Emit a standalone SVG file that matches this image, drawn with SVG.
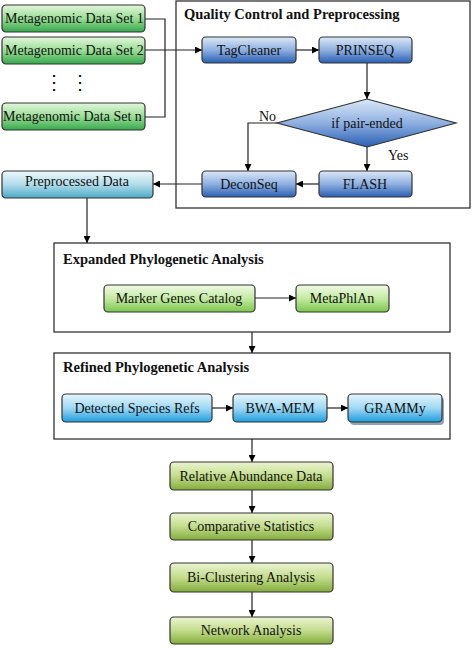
<svg xmlns="http://www.w3.org/2000/svg" width="472" height="648" viewBox="0 0 472 648">
<defs>
<linearGradient id="gGreen" x1="0" y1="0" x2="0" y2="1"><stop offset="0" stop-color="#e2f7dc"/><stop offset="0.5" stop-color="#9bdc96"/><stop offset="1" stop-color="#35a94c"/></linearGradient>
<linearGradient id="gBlue" x1="0" y1="0" x2="0" y2="1"><stop offset="0" stop-color="#dce8f7"/><stop offset="0.5" stop-color="#8fb0e0"/><stop offset="1" stop-color="#2a5fb4"/></linearGradient>
<linearGradient id="gTeal" x1="0" y1="0" x2="0" y2="1"><stop offset="0" stop-color="#eef8fb"/><stop offset="0.5" stop-color="#b2dcea"/><stop offset="1" stop-color="#4aaac6"/></linearGradient>
<linearGradient id="gLime" x1="0" y1="0" x2="0" y2="1"><stop offset="0" stop-color="#f0fae6"/><stop offset="0.5" stop-color="#c4eaa2"/><stop offset="1" stop-color="#7cc64e"/></linearGradient>
<linearGradient id="gSky" x1="0" y1="0" x2="0" y2="1"><stop offset="0" stop-color="#e6f6fd"/><stop offset="0.5" stop-color="#9fd8f2"/><stop offset="1" stop-color="#1e9ddf"/></linearGradient>
<linearGradient id="gOlive" x1="0" y1="0" x2="0" y2="1"><stop offset="0" stop-color="#ecf4d2"/><stop offset="0.5" stop-color="#c3dc8c"/><stop offset="1" stop-color="#84ac3c"/></linearGradient>
<marker id="arr" viewBox="0 0 10 10" refX="10" refY="5" markerWidth="7" markerHeight="7" orient="auto" markerUnits="userSpaceOnUse"><path d="M0,0 L10,5 L0,10 z" fill="#000"/></marker>
</defs>
<style>
text{font-family:Liberation Serif, Times New Roman, serif;font-size:14px;fill:#111;}
.c{text-anchor:middle;}
.t{font-weight:bold;font-size:14.5px;}
.n{stroke:#333;stroke-width:1.2;}
.frame{fill:#fff;stroke:#333;stroke-width:1.3;}
.ln{fill:none;stroke:#222;stroke-width:1.2;}
.dot{font-size:20px;}
</style>
<rect width="472" height="648" fill="#fff"/>
<g id="qc-frame"><rect class="frame" x="176" y="1" width="294" height="207"/><text class="t" x="184" y="19">Quality  Control  and  Preprocessing</text></g>
<g id="exp-frame"><rect class="frame" x="54" y="243" width="396" height="89"/><text class="t" x="63" y="264">Expanded  Phylogenetic  Analysis</text></g>
<g id="ref-frame"><rect class="frame" x="54" y="353" width="396" height="86"/><text class="t" x="63" y="372">Refined Phylogenetic  Analysis</text></g>

<g id="connectors">
<polyline class="ln" points="145,19 165,19 165,117 145,117"/>
<line class="ln" x1="145" y1="50" x2="202" y2="50" marker-end="url(#arr)"/>
<line class="ln" x1="296" y1="50" x2="319" y2="50" marker-end="url(#arr)"/>
<line class="ln" x1="367" y1="63" x2="367" y2="99" marker-end="url(#arr)"/>
<polyline class="ln" points="277,123 248,123 248,171" marker-end="url(#arr)"/>
<line class="ln" x1="367" y1="147" x2="367" y2="171" marker-end="url(#arr)"/>
<line class="ln" x1="319" y1="184" x2="296" y2="184" marker-end="url(#arr)"/>
<line class="ln" x1="202" y1="184" x2="153" y2="184" marker-end="url(#arr)"/>
<line class="ln" x1="87" y1="198" x2="87" y2="243" marker-end="url(#arr)"/>
<line class="ln" x1="255" y1="298" x2="296" y2="298" marker-end="url(#arr)"/>
<line class="ln" x1="252" y1="332" x2="252" y2="353" marker-end="url(#arr)"/>
<line class="ln" x1="212" y1="408" x2="233" y2="408" marker-end="url(#arr)"/>
<line class="ln" x1="327" y1="408" x2="348" y2="408" marker-end="url(#arr)"/>
<line class="ln" x1="252" y1="439" x2="252" y2="462" marker-end="url(#arr)"/>
<line class="ln" x1="252" y1="490" x2="252" y2="513" marker-end="url(#arr)"/>
<line class="ln" x1="252" y1="540" x2="252" y2="563" marker-end="url(#arr)"/>
<line class="ln" x1="252" y1="592" x2="252" y2="617" marker-end="url(#arr)"/>
<text x="259" y="121">No</text>
<text x="388" y="160">Yes</text>
</g>

<g id="ds1"><rect class="n" x="2" y="5" width="143" height="27" rx="4" fill="url(#gGreen)"/><text x="5" y="23">Metagenomic  Data Set 1</text></g>
<g id="ds2"><rect class="n" x="2" y="37" width="143" height="27" rx="4" fill="url(#gGreen)"/><text x="5" y="55">Metagenomic  Data Set 2</text></g>
<g id="dots"><text class="dot c" x="54" y="89">⋮</text><text class="dot c" x="80" y="89">⋮</text></g>
<g id="dsn"><rect class="n" x="2" y="103" width="143" height="27" rx="4" fill="url(#gGreen)"/><text x="3" y="121">Metagenomic  Data Set n</text></g>

<g id="tagcleaner"><rect class="n" x="202" y="37" width="94" height="26" rx="4" fill="url(#gBlue)"/><text class="c" x="249" y="55">TagCleaner</text></g>
<g id="prinseq"><rect class="n" x="319" y="37" width="93" height="26" rx="4" fill="url(#gBlue)"/><text class="c" x="365" y="55">PRINSEQ</text></g>
<g id="pairended"><polygon class="n" points="367,99 456,123 367,147 277,123" fill="url(#gBlue)"/><text class="c" x="367" y="128">if pair-ended</text></g>
<g id="deconseq"><rect class="n" x="202" y="171" width="94" height="26" rx="4" fill="url(#gBlue)"/><text class="c" x="249" y="189">DeconSeq</text></g>
<g id="flash"><rect class="n" x="319" y="171" width="93" height="26" rx="4" fill="url(#gBlue)"/><text class="c" x="365" y="189">FLASH</text></g>

<g id="preprocessed"><rect class="n" x="2" y="171" width="151" height="27" rx="4" fill="url(#gTeal)"/><text class="c" x="77" y="186">Preprocessed Data</text></g>

<g id="marker"><rect class="n" x="104" y="285" width="151" height="27" rx="4" fill="url(#gLime)"/><text class="c" x="179" y="303">Marker Genes Catalog</text></g>
<g id="metaphlan"><rect class="n" x="296" y="285" width="93" height="27" rx="4" fill="url(#gLime)"/><text class="c" x="342" y="303">MetaPhlAn</text></g>

<g id="detected"><rect class="n" x="62" y="394" width="150" height="28" rx="4" fill="url(#gSky)"/><text class="c" x="137" y="413">Detected Species Refs</text></g>
<g id="bwamem"><rect class="n" x="233" y="394" width="94" height="28" rx="4" fill="url(#gSky)"/><text class="c" x="280" y="413">BWA-MEM</text></g>
<g id="grammy"><rect x="350" y="397" width="94" height="28" rx="4" fill="#8fa3b0"/><rect class="n" x="348" y="394" width="94" height="28" rx="4" fill="url(#gSky)"/><text class="c" x="395" y="413">GRAMMy</text></g>

<g id="relative"><rect class="n" x="170" y="462" width="163" height="28" rx="4" fill="url(#gOlive)"/><text class="c" x="251" y="481">Relative Abundance Data</text></g>
<g id="comparative"><rect class="n" x="170" y="513" width="163" height="27" rx="4" fill="url(#gOlive)"/><text class="c" x="251" y="531">Comparative Statistics</text></g>
<g id="biclustering"><rect class="n" x="170" y="563" width="163" height="29" rx="4" fill="url(#gOlive)"/><text class="c" x="251" y="582">Bi-Clustering  Analysis</text></g>
<g id="network"><rect class="n" x="170" y="617" width="163" height="27" rx="4" fill="url(#gOlive)"/><text class="c" x="251" y="635">Network Analysis</text></g>
</svg>
